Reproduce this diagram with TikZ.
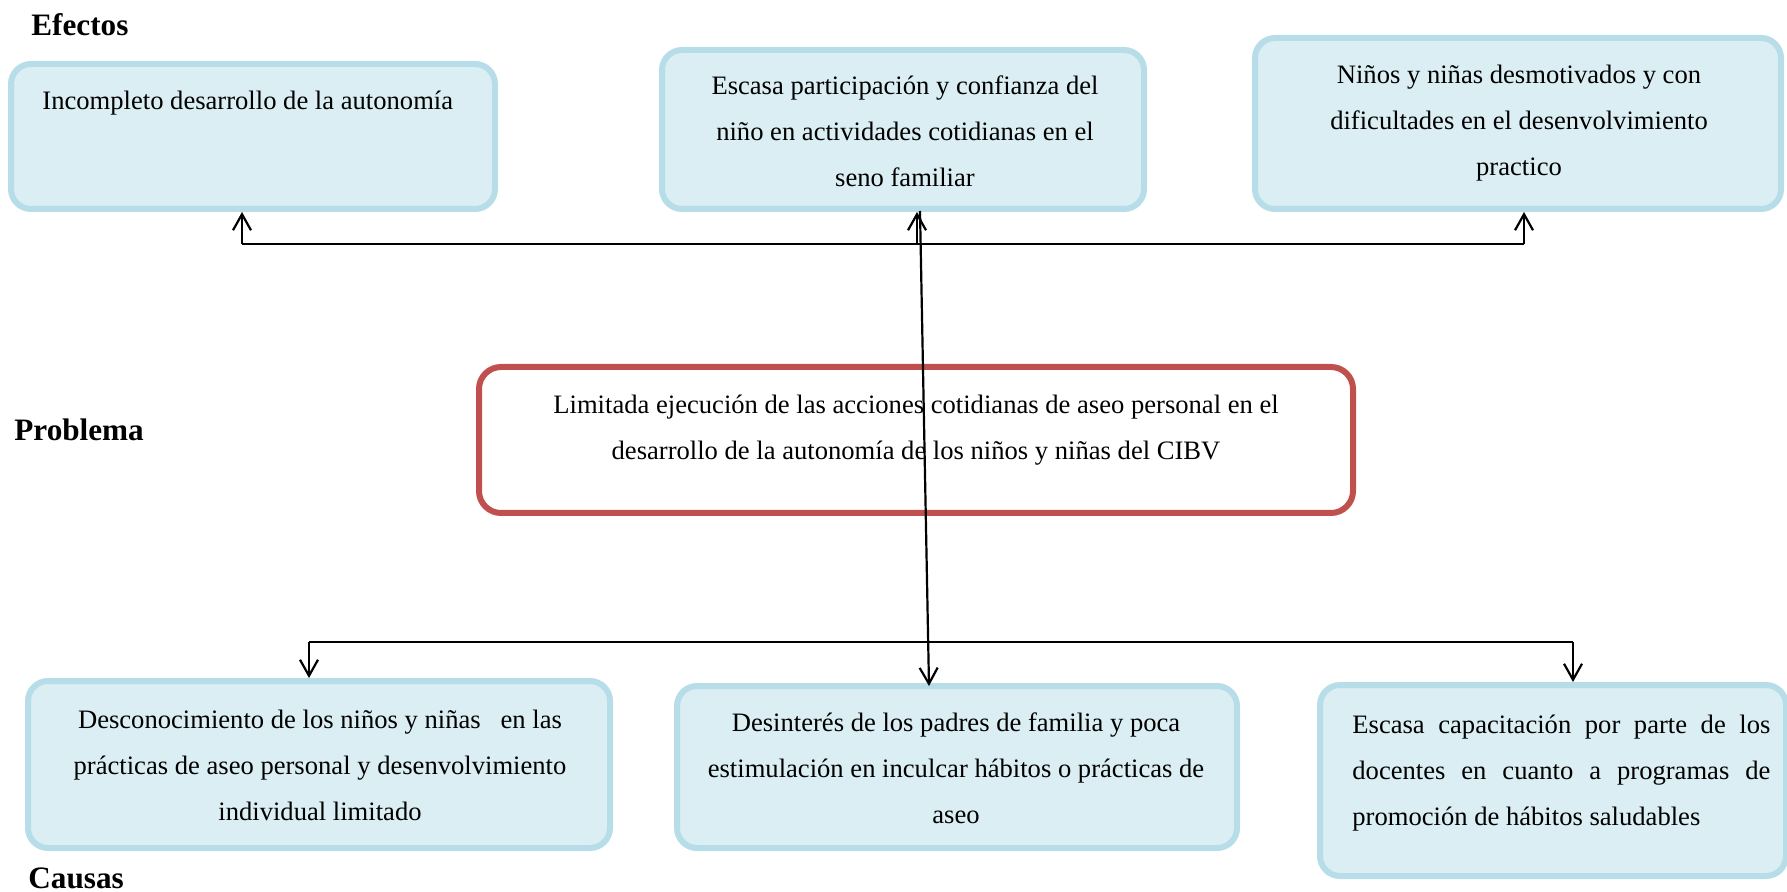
\documentclass[tikz,border=0pt]{standalone}
\usepackage{fontspec}
\setmainfont{Liberation Serif}
\usetikzlibrary{arrows.meta}
\definecolor{boxfill}{HTML}{DAEEF3}
\definecolor{boxline}{HTML}{B7DDE8}
\definecolor{probline}{HTML}{C0504D}
\begin{document}
\begin{tikzpicture}[x=0.5pt,y=-0.5pt,
  bluebox/.style={draw=boxline, fill=boxfill, line width=3pt, rounded corners=10pt, inner sep=0pt},
  redbox/.style={draw=probline, fill=white, line width=3pt, rounded corners=11pt, inner sep=0pt},
  body/.style={font=\fontsize{13.3}{23}\selectfont, align=center, inner sep=0pt},
  head/.style={font=\fontsize{15.6}{18}\selectfont\bfseries, anchor=west, inner sep=0pt},
  conn/.style={line width=1.1pt, black},
  arr/.style={line width=1.1pt, black, -{Straight Barb[length=8pt,width=9pt,line width=1.1pt]}}]
\useasboundingbox (0,0) rectangle (1787,892);
% headings
\node[head] (hE) at (31,25) {Efectos};
\node[head] (hP) at (14,430) {Problema};
\node[head] (hC) at (28,878) {Causas};
% effects
\node[bluebox, minimum width=242pt, minimum height=72.5pt] (e1) at (253,136.5) {};
\node[body, anchor=west] (e1t) at (42,100) {\strut Incompleto desarrollo de la autonomía};
\node[bluebox, minimum width=241pt, minimum height=79.5pt] (e2) at (903,129.5) {};
\node[body] (e2t) at (905,131) {\strut Escasa participación y confianza del\\\strut niño en actividades cotidianas en el\\\strut seno familiar};
\node[bluebox, minimum width=263pt, minimum height=85.5pt] (e3) at (1518,123.5) {};
\node[body] (e3t) at (1519,120) {\strut Niños y niñas desmotivados y con\\\strut dificultades en el desenvolvimiento\\\strut practico};
% problem
\node[redbox, minimum width=437pt, minimum height=73pt] (p) at (916,440) {};
\node[body] (pt) at (916,427.5) {\strut Limitada ejecución de las acciones cotidianas de aseo personal en el\\\strut desarrollo de la autonomía de los niños y niñas del CIBV};
% causes
\node[bluebox, minimum width=291pt, minimum height=83.5pt] (c1) at (319,764.5) {};
\node[body] (c1t) at (320,765) {\strut Desconocimiento de los niños y niñas\ \ \ en las\\\strut prácticas de aseo personal y desenvolvimiento\\\strut individual limitado};
\node[bluebox, minimum width=280pt, minimum height=81pt] (c2) at (957,767) {};
\node[body] (c2t) at (956,768) {\strut Desinterés de los padres de familia y poca\\\strut estimulación en inculcar hábitos o prácticas de\\\strut aseo};
\node[bluebox, minimum width=233pt, minimum height=95.5pt] (c3) at (1553,780.5) {};
\node[body, align=left, anchor=west] (c3t) at (1352,770) {\strut\makebox[209pt][s]{Escasa capacitación por parte de los}\\\strut\makebox[209pt][s]{docentes en cuanto a programas de}\\\strut promoción de hábitos saludables};
% connectors (effects)
\coordinate (tL) at (242,244);
\coordinate (tM) at (917,244);
\coordinate (tR) at (1524,244);
\draw[conn] (tL) -- (tR);
\draw[arr] (tL) -- (tL |- e1.south);
\draw[arr] (tM) -- (tM |- e2.south);
\draw[arr] (tR) -- (tR |- e3.south);
% long line
\coordinate (lT) at (920,211);
\coordinate (lB) at (929,686);
\draw[arr] (lT) -- (lB);
% connectors (causes)
\coordinate (bL) at (309,642);
\coordinate (bR) at (1573,642);
\draw[conn] (bL) -- (bR);
\draw[arr] (bL) -- (bL |- c1.north);
\draw[arr] (bR) -- (bR |- c3.north);
\end{tikzpicture}
\end{document}
